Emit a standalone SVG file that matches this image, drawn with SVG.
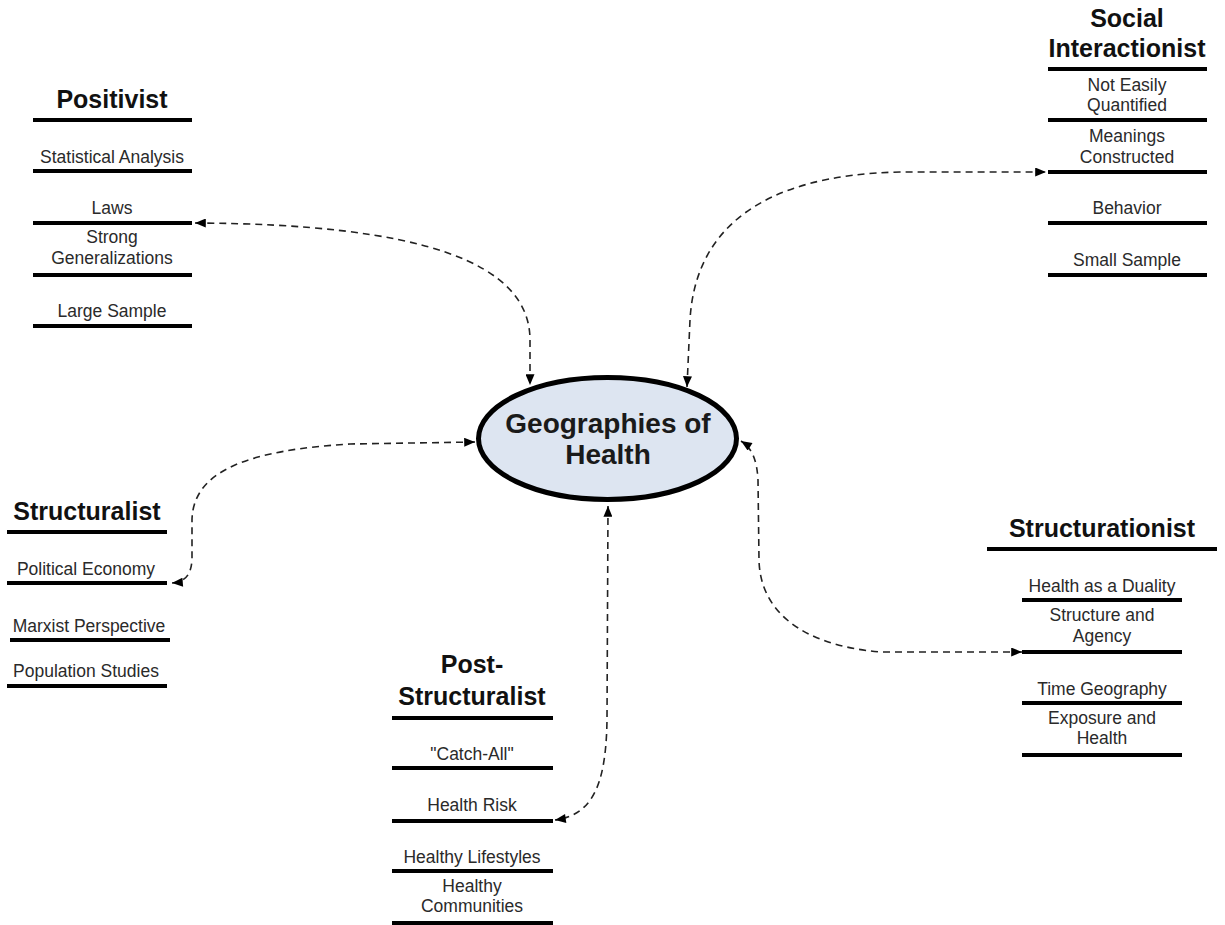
<svg xmlns="http://www.w3.org/2000/svg" width="1225" height="925" viewBox="0 0 1225 925">
<style>
  .title { font-family: "Liberation Sans", Arial, sans-serif; font-weight: bold; font-size: 25px; fill: #111; text-anchor: middle; }
  .item { font-family: "Liberation Sans", Arial, sans-serif; font-size: 17.5px; fill: #2a2a2a; text-anchor: middle; }
  .center { font-family: "Liberation Sans", Arial, sans-serif; font-weight: bold; font-size: 28px; fill: #1a1a1a; text-anchor: middle; }
  .bar { stroke: #000; stroke-width: 4; }
  .conn { fill: none; stroke: #222; stroke-width: 1.6; stroke-dasharray: 7 5; }
</style>
<defs>
  <marker id="arr" viewBox="0 0 12 10" refX="12" refY="5" markerWidth="12" markerHeight="9" markerUnits="userSpaceOnUse" orient="auto-start-reverse">
    <path d="M0,0 L12,5 L0,10 Z" fill="#000"/>
  </marker>
</defs>
<rect width="1225" height="925" fill="#fff"/>

<g id="connectors">
  <path class="conn" marker-start="url(#arr)" marker-end="url(#arr)" d="M195,223 C 420,224 530,262 530,340 L530,385"/>
  <path class="conn" marker-start="url(#arr)" marker-end="url(#arr)" d="M687,387 L690,320 C 695,230 760,175 900,172 L1046,172"/>
  <path class="conn" marker-start="url(#arr)" marker-end="url(#arr)" d="M475,442 L350,444 C 250,450 193,470 192,520 L192,560 C 191,575 185,582 172,583"/>
  <path class="conn" marker-start="url(#arr)" marker-end="url(#arr)" d="M608,506 L607,720 C 606,790 590,815 555,820"/>
  <path class="conn" marker-start="url(#arr)" marker-end="url(#arr)" d="M1022,652 L880,652 C 800,645 760,610 759,560 L758,480 C 757,460 752,448 741,441"/>
</g>

<g id="center">
  <ellipse cx="607.5" cy="438.5" rx="129" ry="61" fill="#dde5f1" stroke="#000" stroke-width="5"/>
  <text class="center" x="608" y="433">Geographies of</text>
  <text class="center" x="608" y="464">Health</text>
</g>

<g id="positivist">
  <text class="title" x="112" y="108">Positivist</text>
  <line class="bar" x1="33" y1="120" x2="192" y2="120"/>
  <text class="item" x="112" y="163">Statistical Analysis</text>
  <line class="bar" x1="33" y1="171" x2="192" y2="171"/>
  <text class="item" x="112" y="214">Laws</text>
  <line class="bar" x1="33" y1="223" x2="192" y2="223"/>
  <text class="item" x="112" y="243">Strong</text>
  <text class="item" x="112" y="264">Generalizations</text>
  <line class="bar" x1="33" y1="275" x2="192" y2="275"/>
  <text class="item" x="112" y="317">Large Sample</text>
  <line class="bar" x1="33" y1="326" x2="192" y2="326"/>
</g>

<g id="social-interactionist">
  <text class="title" x="1127" y="27">Social</text>
  <text class="title" x="1127" y="57">Interactionist</text>
  <line class="bar" x1="1048" y1="69" x2="1207" y2="69"/>
  <text class="item" x="1127" y="91">Not Easily</text>
  <text class="item" x="1127" y="111">Quantified</text>
  <line class="bar" x1="1048" y1="120" x2="1207" y2="120"/>
  <text class="item" x="1127" y="142">Meanings</text>
  <text class="item" x="1127" y="163">Constructed</text>
  <line class="bar" x1="1048" y1="172" x2="1207" y2="172"/>
  <text class="item" x="1127" y="214">Behavior</text>
  <line class="bar" x1="1048" y1="223" x2="1207" y2="223"/>
  <text class="item" x="1127" y="266">Small Sample</text>
  <line class="bar" x1="1048" y1="275" x2="1207" y2="275"/>
</g>

<g id="structuralist">
  <text class="title" x="87" y="520">Structuralist</text>
  <line class="bar" x1="7" y1="532" x2="167" y2="532"/>
  <text class="item" x="86" y="575">Political Economy</text>
  <line class="bar" x1="7" y1="583" x2="167" y2="583"/>
  <text class="item" x="89" y="632">Marxist Perspective</text>
  <line class="bar" x1="10" y1="640" x2="170" y2="640"/>
  <text class="item" x="86" y="677">Population Studies</text>
  <line class="bar" x1="7" y1="686" x2="167" y2="686"/>
</g>

<g id="structurationist">
  <text class="title" x="1102" y="537">Structurationist</text>
  <line class="bar" x1="987" y1="549" x2="1217" y2="549"/>
  <text class="item" x="1102" y="592">Health as a Duality</text>
  <line class="bar" x1="1022" y1="600" x2="1182" y2="600"/>
  <text class="item" x="1102" y="621">Structure and</text>
  <text class="item" x="1102" y="642">Agency</text>
  <line class="bar" x1="1022" y1="652" x2="1182" y2="652"/>
  <text class="item" x="1102" y="695">Time Geography</text>
  <line class="bar" x1="1022" y1="703" x2="1182" y2="703"/>
  <text class="item" x="1102" y="724">Exposure and</text>
  <text class="item" x="1102" y="744">Health</text>
  <line class="bar" x1="1022" y1="755" x2="1182" y2="755"/>
</g>

<g id="post-structuralist">
  <text class="title" x="472" y="673">Post-</text>
  <text class="title" x="472" y="705">Structuralist</text>
  <line class="bar" x1="392" y1="718" x2="553" y2="718"/>
  <text class="item" x="472" y="760">"Catch-All"</text>
  <line class="bar" x1="392" y1="768" x2="553" y2="768"/>
  <text class="item" x="472" y="811">Health Risk</text>
  <line class="bar" x1="392" y1="821" x2="553" y2="821"/>
  <text class="item" x="472" y="863">Healthy Lifestyles</text>
  <line class="bar" x1="392" y1="871" x2="553" y2="871"/>
  <text class="item" x="472" y="892">Healthy</text>
  <text class="item" x="472" y="912">Communities</text>
  <line class="bar" x1="392" y1="923" x2="553" y2="923"/>
</g>
</svg>
